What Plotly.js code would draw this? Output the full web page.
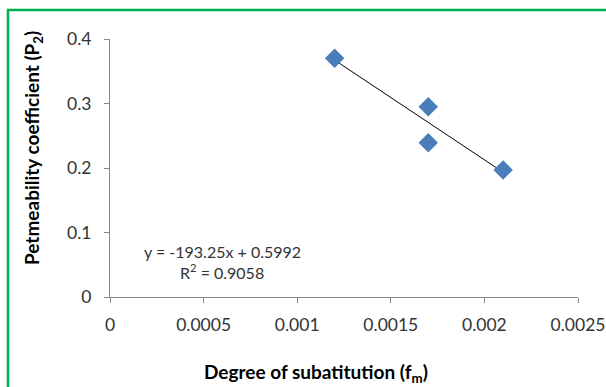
<!DOCTYPE html>
<html>
<head>
<meta charset="utf-8">
<script src="https://cdn.plot.ly/plotly-3.0.1.min.js"></script>
<style>
html,body{margin:0;padding:0;background:#fff;}
#chart{width:606px;height:387px;}
</style>
</head>
<body>
<div id="chart"></div>
<script>
// Data
var xValues = [0.0012, 0.0017, 0.0017, 0.0021];
var yValues = [0.370, 0.295, 0.239, 0.197];
var trendSlope = [-193.25];
var trendIntercept = [0.5992];
var rSquared = [0.9058];
var xTickVals = [0, 0.0005, 0.001, 0.0015, 0.002, 0.0025];
var xTickText = ["0", "0.0005", "0.001", "0.0015", "0.002", "0.0025"];
var yTickVals = [0, 0.1, 0.2, 0.3, 0.4];
var yTickText = ["0", "0.1", "0.2", "0.3", "0.4"];

var xMin = Math.min.apply(null, xValues);
var xMax = Math.max.apply(null, xValues);
var trendX = [xMin, xMax];
var trendY = trendX.map(function (x) { return trendSlope[0] * x + trendIntercept[0]; });

var FONT = "Lato, 'Open Sans', sans-serif";

var data = [
  {
    x: trendX, y: trendY, type: 'scatter', mode: 'lines',
    line: {color: '#000000', width: 1}, hoverinfo: 'skip', showlegend: false
  },
  {
    x: xValues, y: yValues, type: 'scatter', mode: 'markers',
    marker: {symbol: 'diamond', size: 15, color: '#4A7EBB'}, showlegend: false
  }
];

var axisCommon = {
  showgrid: false, zeroline: false, showline: true,
  linecolor: '#888888', linewidth: 1,
  ticks: 'outside', ticklen: 5, tickcolor: '#888888', tickwidth: 1,
  tickfont: {family: FONT, size: 17.5, color: '#333333'},
  ticklabeloverflow: 'allow',
  fixedrange: true
};

var layout = {
  width: 606, height: 387,
  margin: {l: 110, r: 28, t: 39, b: 90},
  paper_bgcolor: '#ffffff', plot_bgcolor: '#ffffff',
  font: {family: FONT},
  xaxis: Object.assign({}, axisCommon, {
    range: [0, 0.0025], tickmode: 'array', tickvals: xTickVals, ticktext: xTickText,
    ticklabelstandoff: 7
  }),
  yaxis: Object.assign({}, axisCommon, {
    range: [0, 0.4], tickmode: 'array', tickvals: yTickVals, ticktext: yTickText,
    ticklabelstandoff: 9
  }),
  annotations: [
    {
      xref: 'paper', yref: 'paper',
      x: (316 - 110) / 468, y: (297 - 373) / 258,
      xanchor: 'center', yanchor: 'middle', showarrow: false,
      text: 'Degree of subatitution (f<sub>m</sub>)',
      font: {family: FONT, size: 19, color: '#000000', weight: 'bold'}
    },
    {
      xref: 'paper', yref: 'paper',
      x: (33 - 110) / 468, y: (297 - 148) / 258,
      xanchor: 'center', yanchor: 'middle', showarrow: false, textangle: -90,
      text: 'Petmeability coefficient (P<sub>2</sub>)',
      font: {family: FONT, size: 19, color: '#000000', weight: 'bold'}
    },
    {
      xref: 'paper', yref: 'paper',
      x: (222 - 110) / 468, y: (297 - 251) / 258,
      xanchor: 'center', yanchor: 'middle', showarrow: false,
      text: 'y = ' + trendSlope[0] + 'x + ' + trendIntercept[0],
      font: {family: FONT, size: 16, color: '#333333'}
    },
    {
      xref: 'paper', yref: 'paper',
      x: (222 - 110) / 468, y: (297 - 271) / 258,
      xanchor: 'center', yanchor: 'middle', showarrow: false,
      text: 'R<sup>2</sup> = ' + rSquared[0],
      font: {family: FONT, size: 16, color: '#333333'}
    }
  ],
  shapes: [
    {
      type: 'path', xref: 'paper', yref: 'paper',
      path: 'M ' + ((8 - 110) / 468) + ' ' + ((297 - 420) / 258) +
            ' L ' + ((8 - 110) / 468) + ' ' + ((297 - 10) / 258) +
            ' L ' + ((640 - 110) / 468) + ' ' + ((297 - 10) / 258),
      line: {color: '#00B050', width: 2.5}
    }
  ]
};

Plotly.newPlot('chart', data, layout, {displayModeBar: false, staticPlot: true});
</script>
</body>
</html>
